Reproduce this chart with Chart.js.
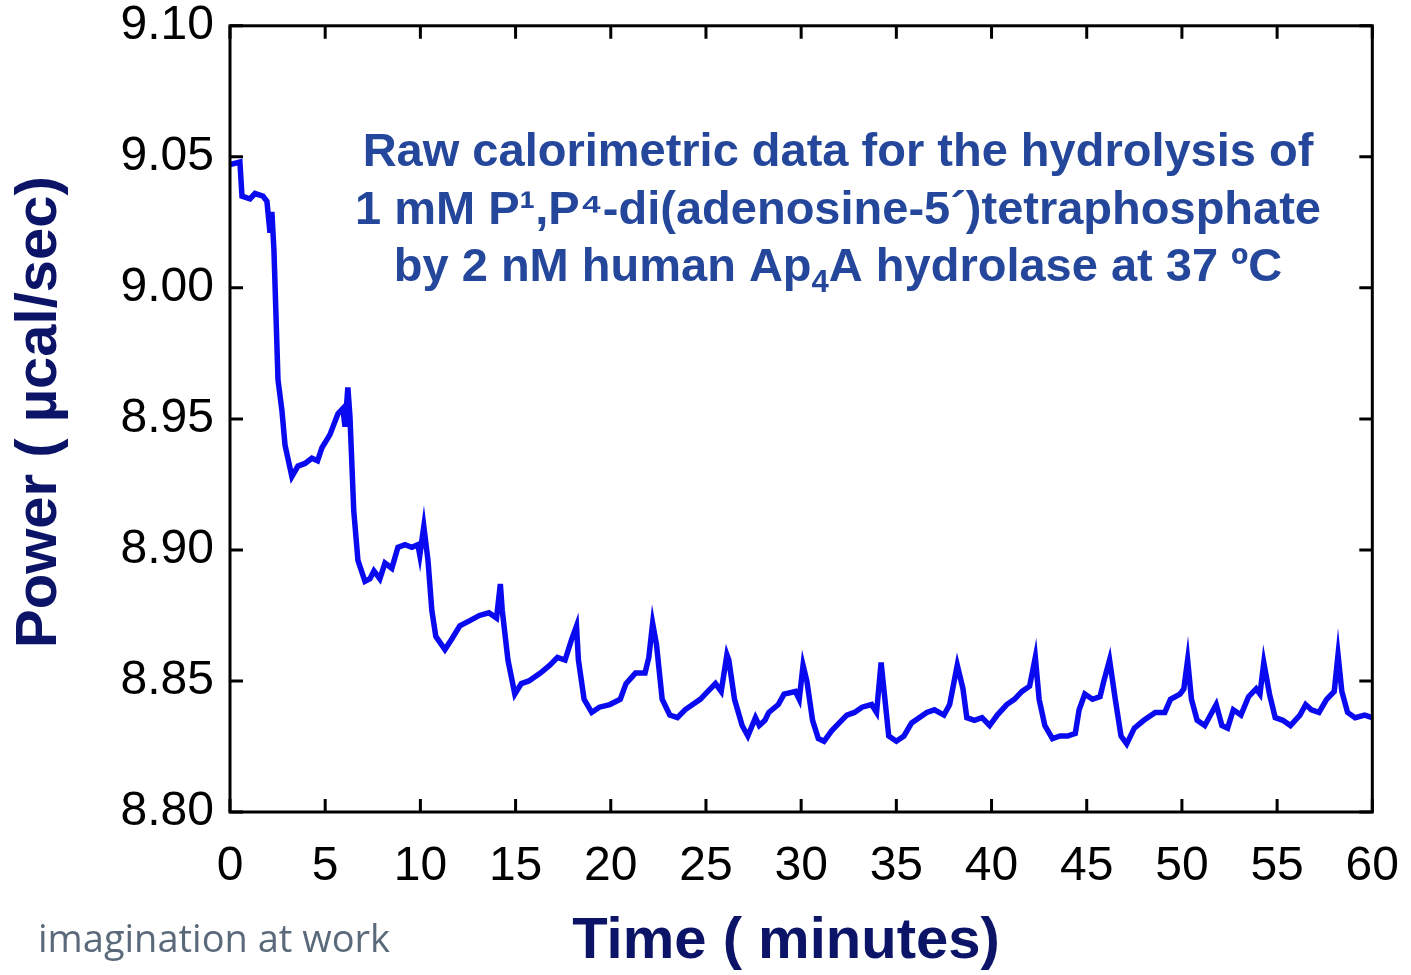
<!DOCTYPE html>
<html>
<head>
<meta charset="utf-8">
<script src="https://cdn.jsdelivr.net/npm/chart.js@4"></script>
<style>
html, body { margin: 0; padding: 0; background: #fff; overflow: hidden; }
#wrap { width: 1417px; height: 986px; position: absolute; left: 0; top: -11px; }
</style>
</head>
<body>
<div id="wrap"><canvas id="myChart"></canvas></div>
<script>
// time in minutes, power in ucal/sec
const timeMin = [0, 0.52, 0.63, 1.05, 1.31, 1.73, 1.94, 2.1, 2.2, 2.31, 2.52, 2.73, 2.89, 3.25, 3.57, 3.94, 4.3, 4.6, 4.83, 5.25, 5.67, 5.93, 6.04, 6.19, 6.3, 6.5, 6.72, 7.09, 7.35, 7.56, 7.87, 8.14, 8.5, 8.82, 9.19, 9.55, 9.87, 9.97, 10.18, 10.4, 10.6, 10.81, 11.29, 11.65, 12.07, 12.6, 13.1, 13.6, 14.0, 14.2, 14.3, 14.6, 14.96, 15.3, 15.7, 16.3, 16.8, 17.2, 17.6, 17.95, 18.2, 18.3, 18.6, 19.0, 19.4, 19.95, 20.5, 20.8, 21.3, 21.8, 22.0, 22.2, 22.4, 22.7, 23.1, 23.5, 23.9, 24.3, 24.7, 25.1, 25.5, 25.8, 26.1, 26.2, 26.5, 26.9, 27.2, 27.6, 27.8, 28.1, 28.3, 28.8, 29.1, 29.7, 29.9, 30.1, 30.3, 30.6, 30.9, 31.2, 31.6, 32.0, 32.4, 32.8, 33.2, 33.7, 33.96, 34.2, 34.4, 34.6, 35.0, 35.4, 35.8, 36.2, 36.6, 37.0, 37.5, 37.8, 38.2, 38.5, 38.7, 39.1, 39.5, 39.9, 40.3, 40.8, 41.2, 41.6, 42.0, 42.3, 42.5, 42.8, 43.2, 43.6, 44.0, 44.4, 44.6, 44.9, 45.3, 45.7, 45.9, 46.2, 46.5, 46.8, 47.1, 47.5, 48.0, 48.6, 49.1, 49.4, 49.9, 50.1, 50.3, 50.5, 50.8, 51.2, 51.5, 51.8, 52.1, 52.4, 52.7, 53.1, 53.5, 53.9, 54.1, 54.3, 54.6, 54.9, 55.3, 55.7, 56.2, 56.5, 56.8, 57.2, 57.6, 58.0, 58.2, 58.4, 58.7, 59.1, 59.6, 60.0];
const power = [9.047, 9.048, 9.035, 9.034, 9.036, 9.035, 9.033, 9.021, 9.029, 9.014, 8.965, 8.953, 8.940, 8.928, 8.932, 8.933, 8.935, 8.934, 8.939, 8.944, 8.952, 8.954, 8.947, 8.962, 8.951, 8.915, 8.896, 8.888, 8.889, 8.892, 8.889, 8.895, 8.893, 8.901, 8.902, 8.901, 8.902, 8.898, 8.909, 8.896, 8.877, 8.867, 8.862, 8.866, 8.871, 8.873, 8.875, 8.876, 8.874, 8.887, 8.877, 8.858, 8.845, 8.849, 8.850, 8.853, 8.856, 8.859, 8.858, 8.866, 8.871, 8.858, 8.843, 8.838, 8.840, 8.841, 8.843, 8.849, 8.853, 8.853, 8.859, 8.872, 8.864, 8.843, 8.837, 8.836, 8.839, 8.841, 8.843, 8.846, 8.849, 8.846, 8.860, 8.858, 8.843, 8.833, 8.829, 8.836, 8.833, 8.835, 8.838, 8.841, 8.845, 8.846, 8.843, 8.856, 8.850, 8.835, 8.828, 8.827, 8.831, 8.834, 8.837, 8.838, 8.840, 8.841, 8.838, 8.857, 8.843, 8.829, 8.827, 8.829, 8.834, 8.836, 8.838, 8.839, 8.837, 8.841, 8.856, 8.847, 8.836, 8.835, 8.836, 8.833, 8.837, 8.841, 8.843, 8.846, 8.848, 8.859, 8.843, 8.833, 8.828, 8.829, 8.829, 8.830, 8.839, 8.845, 8.843, 8.844, 8.850, 8.858, 8.843, 8.829, 8.826, 8.832, 8.835, 8.838, 8.838, 8.843, 8.845, 8.847, 8.858, 8.843, 8.835, 8.833, 8.837, 8.841, 8.833, 8.832, 8.839, 8.837, 8.844, 8.847, 8.845, 8.857, 8.845, 8.836, 8.835, 8.833, 8.837, 8.841, 8.839, 8.838, 8.843, 8.846, 8.860, 8.846, 8.838, 8.836, 8.837, 8.836];
const xTicks = [0, 5, 10, 15, 20, 25, 30, 35, 40, 45, 50, 55, 60];
const yTicks = [8.80, 8.85, 8.90, 8.95, 9.00, 9.05, 9.10];

const points = timeMin.map((t, i) => ({ x: t, y: power[i] }));
const OFF = 11; // canvas is shifted up by this much

// frame, inward ticks on all sides, titles and the caption
const decor = {
    id: 'decor',
    afterDraw(chart) {
        const c = chart.ctx, a = chart.chartArea;
        const xs = chart.scales.x, ys = chart.scales.y;
        c.save();
        c.strokeStyle = '#000';
        c.lineWidth = 3;
        c.strokeRect(a.left, a.top, a.right - a.left, a.bottom - a.top);
        c.beginPath();
        xTicks.forEach(v => {
            const px = xs.getPixelForValue(v);
            c.moveTo(px, a.bottom); c.lineTo(px, a.bottom - 13);
            c.moveTo(px, a.top); c.lineTo(px, a.top + 13);
        });
        yTicks.forEach(v => {
            const py = ys.getPixelForValue(v);
            c.moveTo(a.left, py); c.lineTo(a.left + 13, py);
            c.moveTo(a.right, py); c.lineTo(a.right - 13, py);
        });
        c.stroke();

        c.fillStyle = '#0c1468';
        c.font = 'bold 58px "Liberation Sans", Arial, sans-serif';
        c.textAlign = 'center';
        c.textBaseline = 'middle';
        c.fillText('Time ( minutes)', 786, 942 + OFF);
        c.translate(40, 412 + OFF);
        c.rotate(-Math.PI / 2);
        c.fillText('Power ( \u00b5cal/sec)', 0, 0);
        c.restore();

        c.save();
        const big = 'bold 47px "Liberation Sans", Arial, sans-serif';
        const small = 'bold 31px "Liberation Sans", Arial, sans-serif';
        c.fillStyle = '#25479b';
        c.font = big;
        c.textAlign = 'center';
        c.textBaseline = 'alphabetic';
        c.fillText('Raw calorimetric data for the hydrolysis of', 838, 166 + OFF);
        c.fillText('1 mM P\u00b9,P\u2074-di(adenosine-5\u00b4)tetraphosphate', 838, 224 + OFF);
        // third line with subscript 4
        const l1 = 'by 2 nM human Ap', l2 = '4', l3 = 'A hydrolase at 37 \u00baC';
        const w1 = c.measureText(l1).width, w3 = c.measureText(l3).width;
        c.font = small;
        const w2 = c.measureText(l2).width;
        const x0 = 838 - (w1 + w2 + w3) / 2;
        c.textAlign = 'left';
        c.font = big;
        c.fillText(l1, x0, 281 + OFF);
        c.font = small;
        c.fillText(l2, x0 + w1, 292 + OFF);
        c.font = big;
        c.fillText(l3, x0 + w1 + w2, 281 + OFF);

        c.fillStyle = '#5a6a7a';
        c.font = '38px "Open Sans", sans-serif';
        c.fillText('imagination at work', 38, 952 + OFF);
        c.restore();
    }
};

new Chart(document.getElementById('myChart'), {
    type: 'scatter',
    data: {
        datasets: [{
            data: points,
            showLine: true,
            borderColor: '#0a0af0',
            borderWidth: 5.5,
            pointRadius: 0,
            tension: 0
        }]
    },
    options: {
        responsive: true,
        maintainAspectRatio: false,
        animation: false,
        layout: { padding: { top: 15, right: 32, left: 0, bottom: 0 } },
        plugins: { legend: { display: false }, tooltip: { enabled: false } },
        scales: {
            x: {
                type: 'linear', min: 0, max: 60,
                afterFit: s => { s.height = 163; },
                afterBuildTicks: s => { s.ticks = xTicks.map(v => ({ value: v })); },
                grid: { display: false },
                border: { display: false },
                ticks: { color: '#000', padding: 18, maxRotation: 0,
                         font: { size: 48, family: '"Liberation Sans", Arial, sans-serif' } }
            },
            y: {
                min: 8.80, max: 9.10,
                afterFit: s => { s.width = 230; },
                afterBuildTicks: s => { s.ticks = yTicks.map(v => ({ value: v })); },
                grid: { display: false },
                border: { display: false },
                ticks: { color: '#000', padding: 8,
                         callback: v => v.toFixed(2),
                         font: { size: 48, family: '"Liberation Sans", Arial, sans-serif' } }
            }
        }
    },
    plugins: [decor]
});
</script>
</body>
</html>
